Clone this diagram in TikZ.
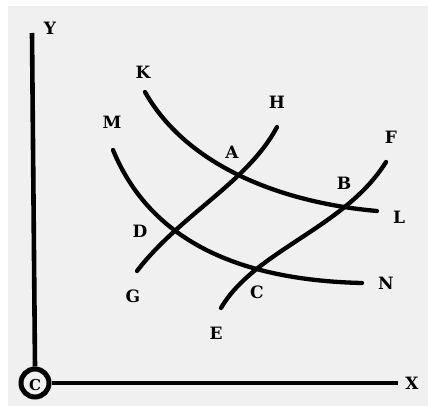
\documentclass[tikz,border=0pt]{standalone}
\usepackage{fontspec}
\setmainfont{DejaVu Serif}
\begin{document}
\begin{tikzpicture}[x=1pt,y=-1pt,
  curve/.style={line width=4.3pt,line cap=round},
  axis/.style={line width=4.6pt},
  lbl/.style={font=\fontsize{17}{17}\selectfont\bfseries,inner sep=0pt}]
\useasboundingbox (0,0) rectangle (428,406);
\definecolor{bg}{HTML}{F0F0F0}
\fill[bg] (8,6) rectangle (428,406);
% axes
\coordinate (ytop) at (32,33);
\coordinate (xend) at (398,383);
\node[circle,draw,line width=5pt,minimum size=28pt,inner sep=0pt] (O) at (35,383) {};
\node[font=\fontsize{15}{15}\selectfont\bfseries,inner sep=0pt] (Oc) at (35,385) {C};
\draw[axis] (O.north) -- (ytop);
\draw[axis] (O.east) -- (xend);
\node[lbl] (Y) at (50,28) {Y};
\node[lbl] (X) at (412,383) {X};
% curves
\draw[curve] (145,92) .. controls (188,168) and (285,203) .. (377,211);
\draw[curve] (113,150) .. controls (148,235) and (230,280) .. (362,283);
\draw[curve] (137,271) .. controls (180,215) and (248,182) .. (277,127);
\draw[curve] (221,308) .. controls (255,250) and (345,228) .. (386,162);
% labels
\node[lbl] (K) at (143,72) {K};
\node[lbl] (M) at (112,122) {M};
\node[lbl] (H) at (277,102) {H};
\node[lbl] (F) at (391,137) {F};
\node[lbl] (A) at (232,152) {A};
\node[lbl] (B) at (344,183) {B};
\node[lbl] (D) at (140,231) {D};
\node[lbl] (L) at (399,217) {L};
\node[lbl] (N) at (386,283) {N};
\node[lbl] (G) at (133,296) {G};
\node[lbl] (C) at (257,292) {C};
\node[lbl] (E) at (216,333) {E};
\end{tikzpicture}
\end{document}
